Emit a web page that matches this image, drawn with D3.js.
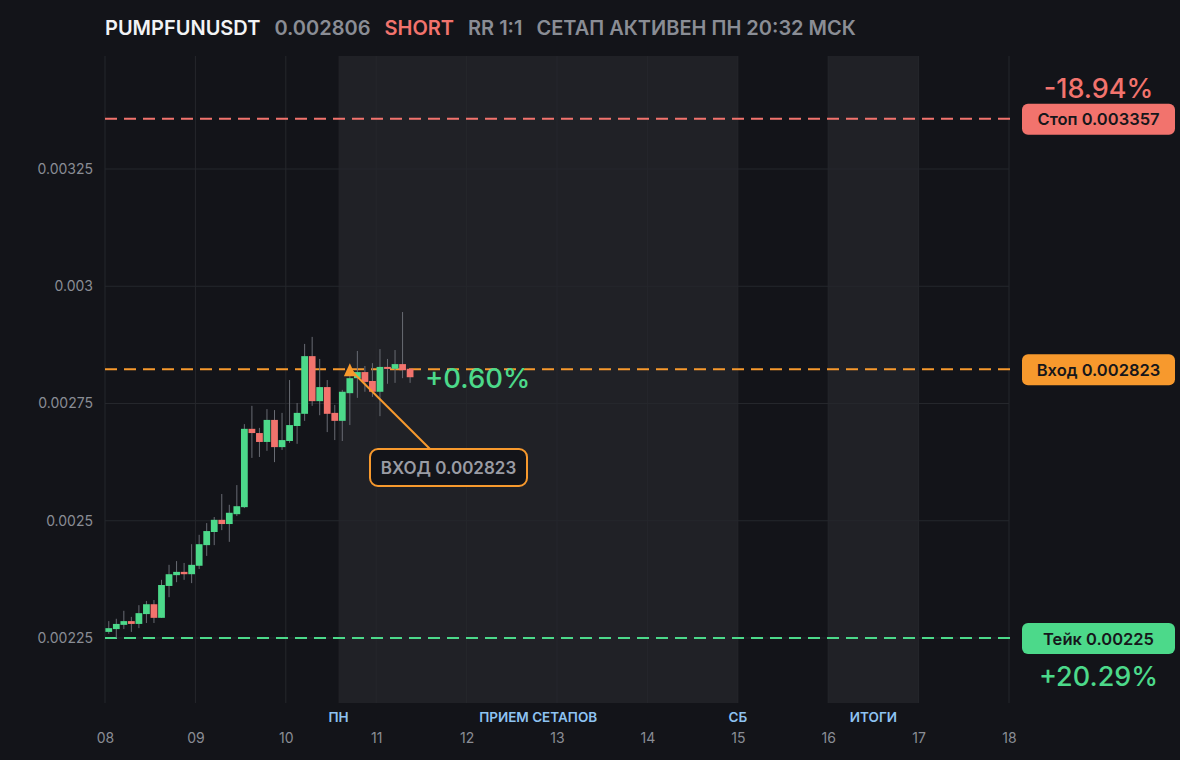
<!DOCTYPE html>
<html>
<head>
<meta charset="utf-8">
<script src="https://cdn.jsdelivr.net/npm/d3@7/dist/d3.min.js"></script>
<style>
  html, body { margin: 0; padding: 0; background: #131419; }
  svg { display: block; font-family: Inter, "Noto Sans", sans-serif; }
</style>
</head>
<body>
<svg width="1180" height="760"></svg>
<script>
// свечи 2ч, начиная с 08 00:00
const opens  = [0.002263,0.002269,0.002278,0.002286,0.002280,0.002301,0.002322,0.002293,0.002361,0.002384,
                0.002391,0.002386,0.002404,0.002448,0.002476,0.002502,0.002493,0.002514,0.002529,0.002696,
                0.002687,0.002668,0.002715,0.002657,0.002670,0.002702,0.002728,0.002851,0.002755,0.002785,
                0.002730,0.002713,0.002772,0.002804,0.002817,0.002798,0.002775,0.002828,0.002824,0.002834,
                0.002824];
const highs  = [0.002286,0.002291,0.002308,0.002295,0.002320,0.002329,0.002331,0.002374,0.002406,0.002414,
                0.002410,0.002450,0.002470,0.002495,0.002508,0.002557,0.002534,0.002576,0.002706,0.002745,
                0.002698,0.002738,0.002736,0.002730,0.002800,0.002751,0.002877,0.002892,0.002845,0.002800,
                0.002747,0.002779,0.002817,0.002862,0.002830,0.002836,0.002866,0.002845,0.002864,0.002945,
                0.002824];
const lows   = [0.002259,0.002250,0.002269,0.002263,0.002271,0.002282,0.002282,0.002293,0.002337,0.002369,
                0.002374,0.002367,0.002397,0.002425,0.002448,0.002480,0.002455,0.002510,0.002527,0.002634,
                0.002636,0.002649,0.002625,0.002651,0.002666,0.002664,0.002713,0.002745,0.002725,0.002689,
                0.002672,0.002670,0.002704,0.002762,0.002775,0.002764,0.002723,0.002792,0.002794,0.002804,
                0.002794];
const closes = [0.002271,0.002280,0.002286,0.002280,0.002303,0.002322,0.002293,0.002363,0.002386,0.002391,
                0.002386,0.002406,0.002450,0.002478,0.002502,0.002493,0.002517,0.002531,0.002696,0.002687,
                0.002668,0.002715,0.002657,0.002672,0.002704,0.002730,0.002851,0.002755,0.002785,0.002728,
                0.002713,0.002775,0.002804,0.002817,0.002796,0.002775,0.002828,0.002824,0.002834,0.002821,
                0.002806];

const symbol = "PUMPFUNUSDT";
const lastPrice = 0.002806;
const stopPrice = 0.003357;
const entryPrice = 0.002823;
const takePrice = 0.00225;
const entryIndex = 32;
const stopPct = "-18.94%";
const takePct = "+20.29%";
const livePct = "+0.60%";
const yTicks = [0.00225, 0.0025, 0.00275, 0.003, 0.00325];
const yTickLabels = ["0.00225", "0.0025", "0.00275", "0.003", "0.00325"];
const zones = [
  {from: "2025-11-10T14:00:00Z", to: "2025-11-15T00:00:00Z", left: "ПН", mid: "ПРИЕМ СЕТАПОВ", right: "СБ"},
  {from: "2025-11-16T00:00:00Z", to: "2025-11-17T00:00:00Z", mid: "ИТОГИ"}
];

const svg = d3.select("svg");
const W = 1180, H = 760;
const pLeft = 105, pRight = 1009, pTop = 56, pBottom = 703;

const C_GREEN = "#4cd98a", C_RED = "#f2736d", C_ORANGE = "#f7992d";
const C_GRID = "#25272c", C_TEXT = "#8a8d95";

svg.append("rect").attr("width", W).attr("height", H).attr("fill", "#131419");

const t0 = new Date("2025-11-08T00:00:00Z");
const times = d3.utcHour.range(t0, new Date("2025-11-11T10:00:00Z"), 2);

const x = d3.scaleUtc()
  .domain([t0, new Date("2025-11-18T00:00:00Z")])
  .range([pLeft, pRight]);
const y = d3.scaleLinear()
  .domain([0.00225 - 0.00025 * 65 / 117.25, 0.00325 + 0.00025 * 113 / 117.25])
  .range([pBottom, pTop]);

// зоны
zones.forEach(z => {
  const x0 = x(new Date(z.from)), x1 = x(new Date(z.to));
  svg.append("rect")
    .attr("x", x0).attr("y", pTop)
    .attr("width", x1 - x0).attr("height", pBottom - pTop)
    .attr("fill", "#202126");
  const lab = [];
  if (z.left) lab.push([x0, z.left]);
  if (z.mid) lab.push([(x0 + x1) / 2, z.mid]);
  if (z.right) lab.push([x1, z.right]);
  lab.forEach(d => {
    svg.append("text")
      .attr("x", d[0]).attr("y", 722)
      .attr("text-anchor", "middle")
      .attr("fill", "#8ec3f2")
      .style("font-size", "13.5px")
      .style("font-weight", 600)
      .text(d[1]);
  });
});

// сетка
const days = d3.utcDay.range(t0, new Date("2025-11-18T12:00:00Z"));
svg.append("g").selectAll("line")
  .data(days).enter().append("line")
  .attr("x1", d => x(d)).attr("x2", d => x(d))
  .attr("y1", pTop).attr("y2", pBottom)
  .attr("stroke", C_GRID).attr("stroke-width", 1);
svg.append("g").selectAll("line")
  .data(yTicks).enter().append("line")
  .attr("x1", pLeft).attr("x2", pRight)
  .attr("y1", d => y(d)).attr("y2", d => y(d))
  .attr("stroke", C_GRID).attr("stroke-width", 1);

// оси
const xAxis = svg.append("g")
  .attr("transform", `translate(0, ${pBottom})`)
  .call(d3.axisBottom(x).tickValues(days).tickFormat(d3.utcFormat("%d")).tickSize(0).tickPadding(30));
xAxis.select(".domain").remove();
xAxis.selectAll("text").attr("fill", C_TEXT).style("font-size", "14px").style("font-family", "Inter, sans-serif");

const yAxis = svg.append("g")
  .attr("transform", `translate(${pLeft}, 0)`)
  .call(d3.axisLeft(y).tickValues(yTicks).tickFormat((d, i) => yTickLabels[i]).tickSize(0).tickPadding(12));
yAxis.select(".domain").remove();
yAxis.selectAll("text").attr("fill", C_TEXT).style("font-size", "14px").style("font-family", "Inter, sans-serif");

// уровни
const levels = [
  {p: stopPrice, c: C_RED, label: "Стоп 0.003357", pct: stopPct, pctY: -21},
  {p: entryPrice, c: C_ORANGE, label: "Вход 0.002823"},
  {p: takePrice, c: C_GREEN, label: "Тейк 0.00225", pct: takePct, pctY: 48}
];
levels.forEach(l => {
  svg.append("line")
    .attr("x1", pLeft).attr("x2", pRight + 1)
    .attr("y1", y(l.p)).attr("y2", y(l.p))
    .attr("stroke", l.c).attr("stroke-width", 2)
    .attr("stroke-dasharray", "12,7");
  svg.append("rect")
    .attr("x", 1022).attr("y", y(l.p) - 15)
    .attr("width", 153).attr("height", 31).attr("rx", 6)
    .attr("fill", l.c);
  svg.append("text")
    .attr("x", 1098.5).attr("y", y(l.p) + 6.5)
    .attr("text-anchor", "middle")
    .attr("fill", "#16171b")
    .style("font-size", "16.5px").style("font-weight", 600)
    .text(l.label);
  if (l.pct) {
    svg.append("text")
      .attr("x", 1098.5).attr("y", y(l.p) + l.pctY)
      .attr("text-anchor", "middle")
      .attr("fill", l.c)
      .style("font-size", "27px").style("font-weight", 500)
      .text(l.pct);
  }
});

// свечи
const step = x(times[1]) - x(times[0]);
const bw = step * 0.9;
const candles = svg.append("g");
times.forEach((t, i) => {
  const cx = x(t) + step / 2;
  const up = closes[i] >= opens[i];
  candles.append("line")
    .attr("x1", cx).attr("x2", cx)
    .attr("y1", y(highs[i])).attr("y2", y(lows[i]))
    .attr("stroke", "#686b73").attr("stroke-width", 1);
  const yt = y(Math.max(opens[i], closes[i])), yb = y(Math.min(opens[i], closes[i]));
  candles.append("rect")
    .attr("x", cx - bw / 2).attr("y", yt)
    .attr("width", bw).attr("height", Math.max(2, yb - yt))
    .attr("fill", up ? C_GREEN : C_RED);
});

// точка входа
const ex = x(times[entryIndex]) + step / 2, ey = y(entryPrice);
svg.append("line")
  .attr("x1", ex).attr("y1", ey)
  .attr("x2", 431).attr("y2", 450)
  .attr("stroke", C_ORANGE).attr("stroke-width", 2);
svg.append("path")
  .attr("d", `M${ex},${ey - 6} L${ex + 6},${ey + 7} L${ex - 6},${ey + 7} Z`)
  .attr("fill", C_ORANGE);
svg.append("rect")
  .attr("x", 370).attr("y", 449)
  .attr("width", 157).attr("height", 37).attr("rx", 8)
  .attr("fill", "#131419").attr("stroke", C_ORANGE).attr("stroke-width", 2);
svg.append("text")
  .attr("x", 448.5).attr("y", 473.5)
  .attr("text-anchor", "middle")
  .attr("fill", "#9a9ca4")
  .style("font-size", "17px").style("font-weight", 600)
  .text("ВХОД 0.002823");

svg.append("text")
  .attr("x", 425).attr("y", 388)
  .attr("fill", C_GREEN)
  .style("font-size", "27.5px").style("font-weight", 500)
  .text(livePct);

// заголовок
const header = [
  [symbol, "#f2f3f5"],
  [lastPrice.toFixed(6), "#8a8d95"],
  ["SHORT", C_RED],
  ["RR 1:1", "#8a8d95"],
  ["СЕТАП АКТИВЕН ПН 20:32 МСК", "#8a8d95"]
];
let hx = pLeft;
header.forEach(h => {
  const t = svg.append("text")
    .attr("x", hx).attr("y", 35)
    .attr("fill", h[1])
    .style("font-size", "20px").style("font-weight", 600)
    .text(h[0]);
  hx += t.node().getComputedTextLength() + 14;
});
</script>
</body>
</html>
